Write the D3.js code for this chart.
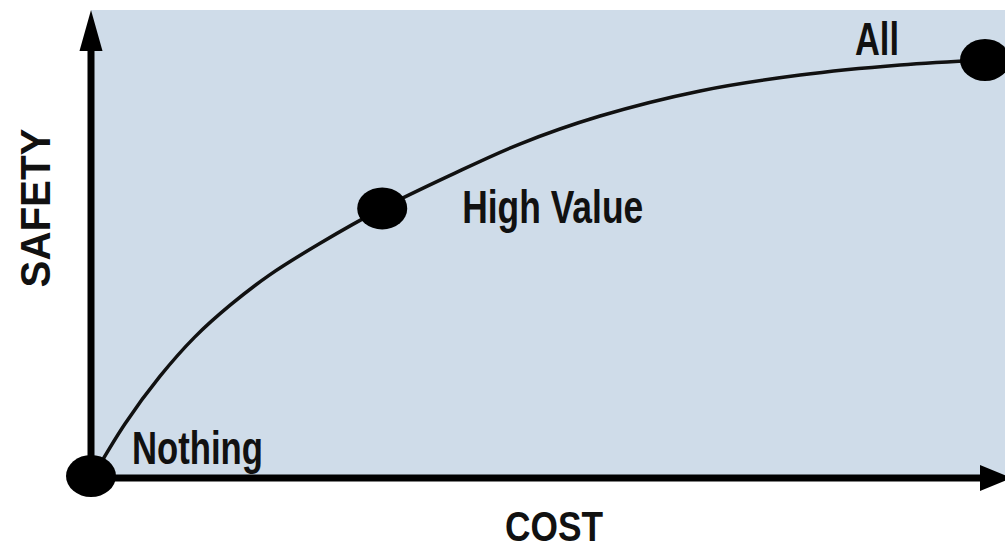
<!DOCTYPE html>
<html>
<head>
<meta charset="utf-8">
<script src="https://cdn.jsdelivr.net/npm/d3@7"></script>
<style>
  html, body { margin: 0; padding: 0; background: #fff; }
  svg { display: block; }
  .lbl { font-family: "Liberation Sans Narrow", "Liberation Sans", Arial, sans-serif; font-weight: bold; fill: #111; }
</style>
</head>
<body>
<svg class="chart"></svg>
<script>
// curve: cost (0-100) vs safety (0-100)
const COST   = [0, 3.7, 7.6, 11.5, 15.5, 19.9, 25.5, 32.5, 40.1, 47.9, 56.9, 68.1, 79.3, 90.5, 100];
const SAFETY = [0, 13.0, 24.3, 33.7, 41.4, 48.6, 56.1, 64.5, 72.4, 79.9, 86.6, 92.6, 96.4, 98.8, 100];

const POINT_NAMES  = ["Nothing", "High Value", "All"];
const POINT_COST   = [0, 32.5, 100];
const POINT_SAFETY = [0, 64.5, 100];

const AXIS_TITLES = ["COST", "SAFETY"];

const WIDTH = 1005, HEIGHT = 550;
const ORIGIN = { x: 91, y: 478 };

const svg = d3.select(".chart").attr("width", WIDTH).attr("height", HEIGHT);

const X_fxn = d3.scaleLinear().domain([0, 100]).range([92, 985]);
const Y_fxn = d3.scaleLinear().domain([0, 100]).range([478, 60]);

// background panel
svg.append("rect")
    .attr("x", ORIGIN.x).attr("y", 10)
    .attr("width", WIDTH - ORIGIN.x).attr("height", ORIGIN.y - 10)
    .attr("fill", "#cfdce9");

// curve
const data = COST.map((c, i) => ({ cost: c, safety: SAFETY[i] }));
const line_fxn = d3.line()
    .x(d => X_fxn(d.cost))
    .y(d => Y_fxn(d.safety))
    .curve(d3.curveCatmullRom.alpha(0.5));

svg.append("path").datum(data)
    .attr("d", line_fxn)
    .attr("fill", "none")
    .attr("stroke", "#111")
    .attr("stroke-width", 3.5);

// axes with arrow heads
svg.append("line")
    .attr("x1", ORIGIN.x).attr("y1", ORIGIN.y)
    .attr("x2", ORIGIN.x).attr("y2", 45)
    .attr("stroke", "#000").attr("stroke-width", 7);
svg.append("path")
    .attr("d", `M${ORIGIN.x},10 L${ORIGIN.x + 11.5},51 L${ORIGIN.x - 11.5},51 Z`)
    .attr("fill", "#000");

svg.append("line")
    .attr("x1", ORIGIN.x - 3.5).attr("y1", ORIGIN.y)
    .attr("x2", 985).attr("y2", ORIGIN.y)
    .attr("stroke", "#000").attr("stroke-width", 7);
svg.append("path")
    .attr("d", `M980,465 L1012,${ORIGIN.y} L980,491 Z`)
    .attr("fill", "#000");

// marker dots
const pts = POINT_NAMES.map((n, i) => ({ name: n, cost: POINT_COST[i], safety: POINT_SAFETY[i] }));
svg.selectAll(".dot").data(pts).enter().append("ellipse")
    .attr("class", "dot")
    .attr("cx", d => X_fxn(d.cost) - (d.cost === 0 ? 1 : 0))
    .attr("cy", d => Y_fxn(d.safety) - (d.cost === 0 ? 2 : 0))
    .attr("rx", 25).attr("ry", 21)
    .attr("fill", "#000");

// point labels: offset from their dots, with widths matched to the picture
const LABEL_OFFSET = { "Nothing": [40, -14, 131], "High Value": [80, 15, 181], "All": [-130, -5, 44] };
svg.selectAll(".plabel").data(pts).enter().append("text")
    .attr("class", "lbl plabel")
    .attr("x", d => X_fxn(d.cost) + LABEL_OFFSET[d.name][0])
    .attr("y", d => Y_fxn(d.safety) + LABEL_OFFSET[d.name][1])
    .attr("textLength", d => LABEL_OFFSET[d.name][2])
    .attr("lengthAdjust", "spacingAndGlyphs")
    .style("font-size", "46px")
    .text(d => d.name);

// axis titles
svg.append("text")
    .attr("class", "lbl")
    .attr("x", 505).attr("y", 541)
    .attr("textLength", 98).attr("lengthAdjust", "spacingAndGlyphs")
    .style("font-size", "42px")
    .text(AXIS_TITLES[0]);

svg.append("text")
    .attr("class", "lbl")
    .attr("transform", "translate(50, 208) rotate(-90)")
    .attr("text-anchor", "middle")
    .attr("textLength", 159).attr("lengthAdjust", "spacingAndGlyphs")
    .style("font-size", "42px")
    .text(AXIS_TITLES[1]);
</script>
</body>
</html>
